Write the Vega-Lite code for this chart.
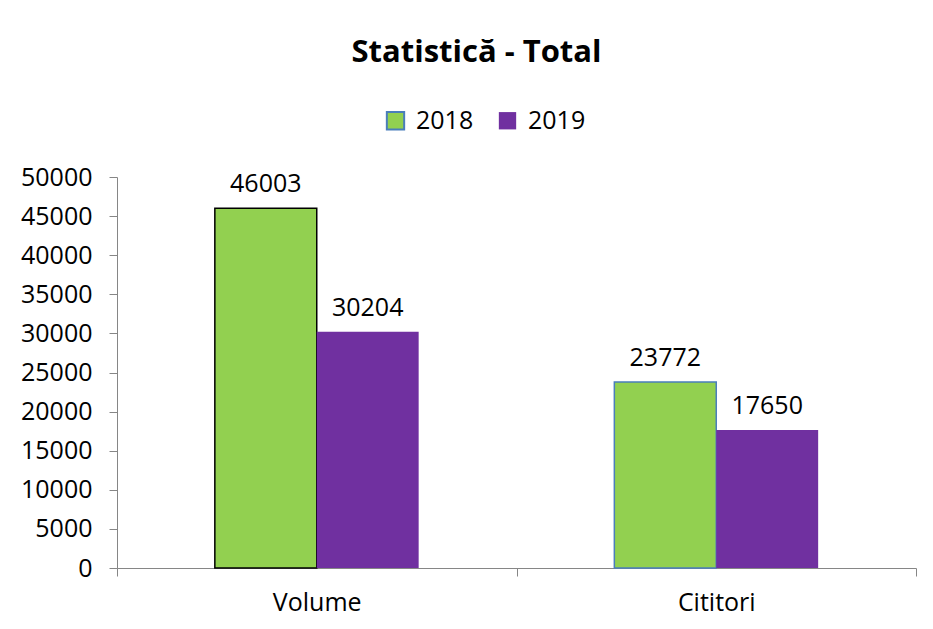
{
  "$schema": "https://vega.github.io/schema/vega-lite/v6.json",
  "autosize": "none",
  "width": 799,
  "height": 391,
  "padding": {"left": 117, "top": 177, "right": 17, "bottom": 61},
  "background": "white",
  "config": {
    "font": "Open Sans",
    "view": {"stroke": null},
    "axis": {"labelFont": "Open Sans", "labelFontSize": 25, "labelColor": "#000000", "domainColor": "#868686", "tickColor": "#868686", "domainWidth": 1, "tickWidth": 1}
  },
  "title": {"text": "Statistică - Total", "font": "Open Sans", "fontSize": 31, "fontWeight": "bold", "color": "#000000", "anchor": "middle", "dx": -40, "offset": 39},
  "data": {
    "values": [
      {"category": "Volume", "year": "2018", "value": 46003},
      {"category": "Volume", "year": "2019", "value": 30204},
      {"category": "Cititori", "year": "2018", "value": 23772},
      {"category": "Cititori", "year": "2019", "value": 17650}
    ]
  },
  "encoding": {
    "x": {"field": "category", "type": "nominal", "sort": ["Volume", "Cititori"],
      "scale": {"paddingInner": 0, "paddingOuter": 0},
      "axis": {"title": null, "labelAngle": 0, "tickBand": "extent", "tickSize": 8, "labelPadding": 14, "grid": false}},
    "xOffset": {"field": "year", "type": "nominal", "sort": ["2018", "2019"], "scale": {"paddingInner": 0, "paddingOuter": 0.96}},
    "y": {"field": "value", "type": "quantitative", "scale": {"domain": [0, 50000], "nice": false},
      "axis": {"title": null, "values": [0, 5000, 10000, 15000, 20000, 25000, 30000, 35000, 40000, 45000, 50000], "grid": false, "tickSize": 8, "labelPadding": 17, "format": "d"}}
  },
  "layer": [
    {
      "mark": {"type": "bar", "strokeWidth": 1.5},
      "encoding": {
        "color": {"field": "year", "type": "nominal", "sort": ["2018", "2019"],
          "scale": {"domain": ["2018", "2019"], "range": ["#92D050", "#7030A0"]},
          "legend": {"title": null, "orient": "none", "legendX": 266, "legendY": -69, "direction": "horizontal", "columns": 2,
            "symbolType": "square", "symbolSize": 300, "symbolStrokeWidth": 2, "labelFontSize": 25, "labelFont": "Open Sans", "labelColor": "#000000", "labelOffset": 8, "columnPadding": 20}},
        "stroke": {
          "condition": {"test": "datum.category === 'Volume' && datum.year === '2018'", "value": "#000000"},
          "field": "year", "type": "nominal", "sort": ["2018", "2019"],
          "scale": {"domain": ["2018", "2019"], "range": ["#4A7EBB", "transparent"]},
          "legend": {"title": null, "orient": "none", "legendX": 266, "legendY": -69, "direction": "horizontal", "columns": 2,
            "symbolType": "square", "symbolSize": 300, "symbolStrokeWidth": 2, "labelFontSize": 25, "labelFont": "Open Sans", "labelColor": "#000000", "labelOffset": 8, "columnPadding": 20}
        }
      }
    },
    {
      "mark": {"type": "text", "baseline": "alphabetic", "dy": -16, "fontSize": 25, "font": "Open Sans", "color": "#000000"},
      "encoding": {"text": {"field": "value", "type": "quantitative", "format": "d"}}
    }
  ]
}
